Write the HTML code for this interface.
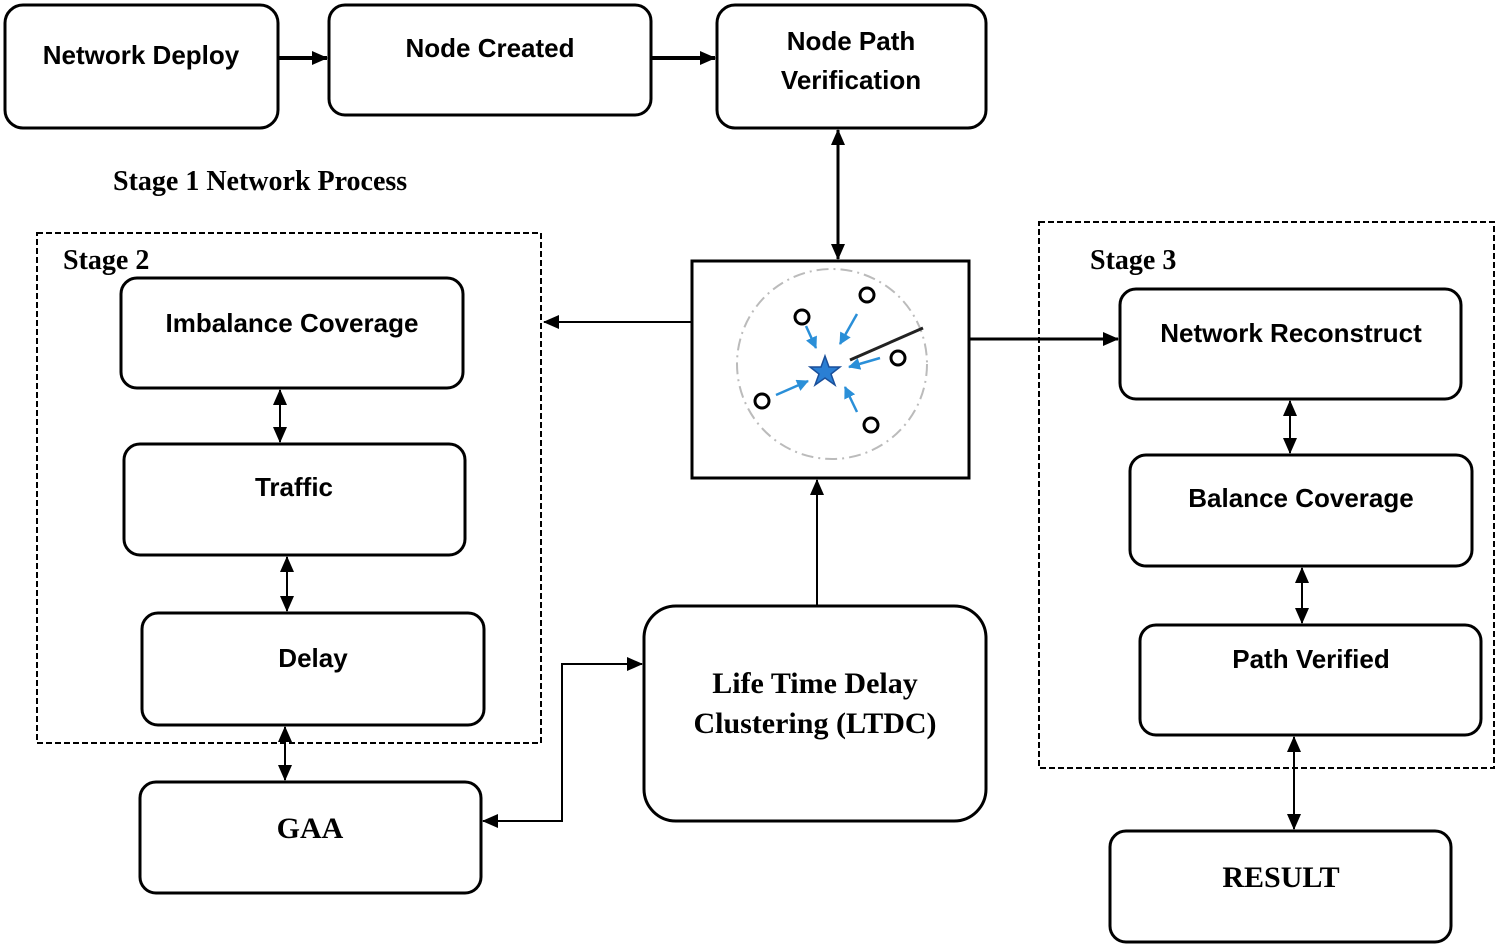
<!DOCTYPE html>
<html><head><style>body{margin:0;background:#fff}svg{display:block}
.s{font-family:"Liberation Sans",sans-serif;font-weight:bold;font-size:26px;text-anchor:middle;fill:#000}
.r{font-family:"Liberation Serif",serif;font-weight:bold;font-size:30px;text-anchor:middle;fill:#000}
.b{fill:#fff;stroke:#000;stroke-width:3}
</style></head><body>
<svg width="1499" height="947" viewBox="0 0 1499 947">
<defs>
<marker id="c" markerWidth="16" markerHeight="16" refX="15" refY="8" orient="auto-start-reverse" markerUnits="userSpaceOnUse"><path d="M0,1 L16,8 L0,15 z" fill="#000"/></marker>
<marker id="bl" markerWidth="12" markerHeight="12" refX="11" refY="6" orient="auto" markerUnits="userSpaceOnUse"><path d="M0,0 L12,6 L0,12 z" fill="#2a8fd8"/></marker></defs>
<g stroke="#000" stroke-width="3" fill="none">
<rect x="37" y="233" width="504" height="510" stroke-dasharray="6,3" stroke-width="2"/>
<rect x="1039" y="222" width="455" height="546" stroke-dasharray="6,3" stroke-width="2"/>
<line x1="278" y1="58" x2="327" y2="58" marker-end="url(#c)" stroke-width="4"/>
<line x1="651" y1="58" x2="715" y2="58" marker-end="url(#c)" stroke-width="4"/>
<line x1="838" y1="130" x2="838" y2="259" marker-start="url(#c)" marker-end="url(#c)"/>
<line x1="692" y1="322" x2="544" y2="322" marker-end="url(#c)" stroke-width="2"/>
<line x1="969" y1="339" x2="1118" y2="339" marker-end="url(#c)"/>
<line x1="817" y1="606" x2="817" y2="480" marker-end="url(#c)" stroke-width="2"/>
<line x1="280" y1="390" x2="280" y2="442" marker-start="url(#c)" marker-end="url(#c)" stroke-width="2"/>
<line x1="287" y1="557" x2="287" y2="611" marker-start="url(#c)" marker-end="url(#c)" stroke-width="2"/>
<line x1="285" y1="727" x2="285" y2="780" marker-start="url(#c)" marker-end="url(#c)" stroke-width="2"/>
<line x1="1290" y1="401" x2="1290" y2="453" marker-start="url(#c)" marker-end="url(#c)" stroke-width="2"/>
<line x1="1302" y1="568" x2="1302" y2="623" marker-start="url(#c)" marker-end="url(#c)" stroke-width="2"/>
<line x1="1294" y1="737" x2="1294" y2="829" marker-start="url(#c)" marker-end="url(#c)" stroke-width="2"/>
<polyline points="483,821 562,821 562,664 642,664" marker-start="url(#c)" marker-end="url(#c)" stroke-width="2"/>
</g>
<rect class="b" x="5" y="5" width="273" height="123" rx="18"/>
<rect class="b" x="329" y="5" width="322" height="110" rx="16"/>
<rect class="b" x="717" y="5" width="269" height="123" rx="18"/>
<rect class="b" x="121" y="278" width="342" height="110" rx="16"/>
<rect class="b" x="124" y="444" width="341" height="111" rx="16"/>
<rect class="b" x="142" y="613" width="342" height="112" rx="16"/>
<rect class="b" x="140" y="782" width="341" height="111" rx="16"/>
<rect class="b" x="644" y="606" width="342" height="215" rx="32"/>
<rect class="b" x="692" y="261" width="277" height="217" rx="0" stroke-width="2.5"/>
<rect class="b" x="1120" y="289" width="341" height="110" rx="16"/>
<rect class="b" x="1130" y="455" width="342" height="111" rx="16"/>
<rect class="b" x="1140" y="625" width="341" height="110" rx="16"/>
<rect class="b" x="1110" y="831" width="341" height="111" rx="16"/>
<circle cx="832" cy="364" r="95" fill="none" stroke="#bbb" stroke-width="2" stroke-dasharray="12,5,2,5"/>
<g stroke="#2a8fd8" stroke-width="2.5">
<line x1="806" y1="326" x2="816" y2="348" marker-end="url(#bl)"/>
<line x1="857" y1="314" x2="840" y2="344" marker-end="url(#bl)"/>
<line x1="880" y1="358" x2="849" y2="367" marker-end="url(#bl)"/>
<line x1="776" y1="395" x2="808" y2="381" marker-end="url(#bl)"/>
<line x1="857" y1="412" x2="845" y2="387" marker-end="url(#bl)"/>
</g>
<line x1="850" y1="360" x2="923" y2="328" stroke="#222" stroke-width="3"/>
<g fill="#fff" stroke="#000" stroke-width="3">
<circle cx="802" cy="317" r="7"/><circle cx="867" cy="295" r="7"/><circle cx="898" cy="358" r="7"/><circle cx="762" cy="401" r="7"/><circle cx="871" cy="425" r="7"/></g>
<polygon points="825,356 829,367 840,367 831,374 835,385 825,378 815,385 819,374 810,367 821,367" fill="#2a7fd4" stroke="#1a4f9a" stroke-width="1.5"/>
<text class="s" x="141" y="64">Network Deploy</text>
<text class="s" x="490" y="57">Node Created</text>
<text class="s" x="851" y="50">Node Path</text>
<text class="s" x="851" y="89">Verification</text>
<text class="s" x="292" y="332">Imbalance Coverage</text>
<text class="s" x="294" y="496">Traffic</text>
<text class="s" x="313" y="667">Delay</text>
<text class="s" x="1291" y="342">Network Reconstruct</text>
<text class="s" x="1301" y="507">Balance Coverage</text>
<text class="s" x="1311" y="668">Path Verified</text>
<text class="r" x="310" y="838">GAA</text>
<text class="r" x="815" y="693">Life Time Delay</text>
<text class="r" x="815" y="733">Clustering (LTDC)</text>
<text class="r" x="1281" y="887">RESULT</text>
<text class="r" x="113" y="190" style="text-anchor:start;font-size:28px">Stage 1 Network Process</text>
<text class="r" x="63" y="269" style="text-anchor:start;font-size:28px">Stage 2</text>
<text class="r" x="1090" y="269" style="text-anchor:start;font-size:28px">Stage 3</text>
</svg></body></html>
